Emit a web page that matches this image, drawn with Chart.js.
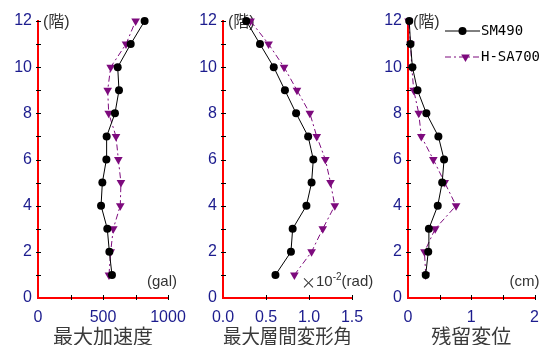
<!DOCTYPE html>
<html>
<head>
<meta charset="utf-8">
<script src="https://cdn.jsdelivr.net/npm/chart.js@4.4.0/dist/chart.umd.min.js"></script>
<style>
  body { margin: 0; background: #fff; }
  #wrap { position: relative; width: 549px; height: 345px; }
  #wrap canvas { position: absolute; left: 0; top: 0; }
</style>
</head>
<body>
<div id="wrap">
  <canvas id="accel" width="549" height="345"></canvas>
  <canvas id="drift" width="549" height="345"></canvas>
  <canvas id="resid" width="549" height="345"></canvas>
</div>
<script>
// floors (階)
const floors = [1, 2, 3, 4, 5, 6, 7, 8, 9, 10, 11, 12];
const seriesNames = ["SM490", "H-SA700"];

// 最大加速度 (gal)
const accelSM490  = [569, 549, 533, 485, 495, 526, 528, 592, 623, 613, 713, 820];
const accelHSA700 = [546, 559, 579, 633, 638, 618, 600, 544, 536, 559, 677, 751];

// 最大層間変形角 (x10^-2 rad)
const driftSM490  = [0.61, 0.79, 0.81, 0.97, 1.03, 1.05, 0.99, 0.85, 0.72, 0.59, 0.43, 0.27];
const driftHSA700 = [0.83, 1.03, 1.16, 1.30, 1.25, 1.19, 1.09, 1.01, 0.86, 0.71, 0.53, 0.32];

// 残留変位 (cm)
const residSM490  = [0.28, 0.32, 0.33, 0.47, 0.54, 0.57, 0.48, 0.29, 0.15, 0.07, 0.04, 0.02];
const residHSA700 = [0.28, 0.26, 0.43, 0.76, 0.58, 0.40, 0.21, 0.17, 0.09, 0.06, 0.04, 0.01];

const BLUE = '#1c1c8e';
const RED = '#ff0000';
const PURPLE = '#7d0a7d';
const CJK = '"Noto Sans CJK JP"';
const SANS = '"Liberation Sans", Arial, ' + CJK;

function pts(vals) {
  return floors.map((f, i) => ({ x: vals[i], y: f }));
}

// tick marks crossing the axes, unit labels and legend
const decor = {
  id: 'decor',
  beforeDatasetsDraw(chart, args, opts) {
    const ctx = chart.ctx;
    const area = chart.chartArea;
    const xs = chart.scales.x, ys = chart.scales.y;
    ctx.save();
    ctx.strokeStyle = '#000';
    ctx.lineWidth = 1;
    ctx.beginPath();
    for (let v = ys.min + opts.yMinor; v <= ys.max + 1e-9; v += opts.yMinor) {
      const py = Math.round(ys.getPixelForValue(v)) + 0.5;
      ctx.moveTo(area.left - 2, py);
      ctx.lineTo(area.left + 3, py);
    }
    for (let v = xs.min + opts.xMinor; v <= xs.max + 1e-9; v += opts.xMinor) {
      const px = Math.round(xs.getPixelForValue(v)) + 0.5;
      ctx.moveTo(px, area.bottom - 3);
      ctx.lineTo(px, area.bottom + 2);
    }
    ctx.stroke();

    ctx.fillStyle = '#333';
    ctx.textBaseline = 'middle';
    ctx.textAlign = 'left';
    ctx.font = '16px ' + SANS;
    ctx.fillText('(階)', area.left + 5, area.top + 2);

    // x unit
    let ux = area.right + opts.unitDx;
    const uy = area.bottom - 16;
    opts.unit.forEach(p => {
      ctx.font = (p.size || 15) + 'px ' + (p.family || SANS);
      ctx.fillText(p.t, ux, uy + (p.dy || 0));
      ux += ctx.measureText(p.t).width;
    });
    ctx.restore();
  },
  afterDatasetsDraw(chart, args, opts) {
    if (!opts.legend) return;
    const ctx = chart.ctx;
    const area = chart.chartArea;
    ctx.save();
    chart.data.datasets.forEach((ds, i) => {
      const y = area.top + 10 + i * 26;
      const x0 = area.left + 37, x1 = area.left + 72;
      ctx.strokeStyle = ds.borderColor;
      ctx.lineWidth = ds.borderWidth;
      ctx.setLineDash(ds.borderDash || []);
      ctx.beginPath();
      ctx.moveTo(x0, y);
      ctx.lineTo(x1, y);
      ctx.stroke();
      ctx.setLineDash([]);
      ctx.fillStyle = ds.backgroundColor;
      const mx = (x0 + x1) / 2 + i * 3;
      ctx.beginPath();
      if (ds.pointStyle === 'triangle') {
        const r = ds.pointRadius;
        ctx.moveTo(mx, y + r);
        ctx.lineTo(mx - r * 0.866, y - r / 2);
        ctx.lineTo(mx + r * 0.866, y - r / 2);
        ctx.closePath();
      } else {
        ctx.arc(mx, y, ds.pointRadius, 0, Math.PI * 2);
      }
      ctx.fill();
      ctx.fillStyle = '#000';
      ctx.font = '14px "DejaVu Sans Mono", "Liberation Mono", monospace';
      ctx.textBaseline = 'middle';
      ctx.textAlign = 'left';
      ctx.fillText(ds.label, x1 + 1, y);
    });
    ctx.restore();
  }
};

function makePanel(id, cfg) {
  return new Chart(document.getElementById(id), {
    type: 'scatter',
    data: {
      datasets: [
        {
          label: seriesNames[0],
          data: pts(cfg.a),
          showLine: true,
          borderColor: '#000',
          backgroundColor: '#000',
          borderWidth: 1,
          pointStyle: 'circle',
          pointRadius: 4,
          pointBorderWidth: 0,
          clip: false
        },
        {
          label: seriesNames[1],
          data: pts(cfg.b),
          showLine: true,
          borderColor: PURPLE,
          backgroundColor: PURPLE,
          borderWidth: 1,
          borderDash: [6, 3, 2, 3],
          pointStyle: 'triangle',
          rotation: 180,
          pointRadius: 5,
          pointBorderWidth: 0,
          clip: false
        }
      ]
    },
    options: {
      responsive: false,
      animation: false,
      events: [],
      layout: {
        autoPadding: false,
        padding: { left: cfg.left - 30, right: 549 - cfg.right, top: 21, bottom: 0 }
      },
      plugins: {
        legend: { display: false },
        tooltip: { enabled: false },
        decor: {
          xMinor: cfg.xMinor,
          yMinor: 1,
          unit: cfg.unit,
          unitDx: cfg.unitDx,
          legend: !!cfg.legend
        }
      },
      scales: {
        x: {
          type: 'linear',
          position: 'bottom',
          min: 0,
          max: cfg.xMax,
          afterFit: s => { s.height = 47; },
          grid: { display: false, drawTicks: false },
          border: { display: true, color: RED, width: 2 },
          ticks: {
            stepSize: cfg.xStep,
            padding: 10,
            color: BLUE,
            font: { size: 16, family: SANS },
            callback: v => cfg.fmt(v)
          },
          title: {
            display: true,
            text: cfg.title,
            color: '#3a3a3a',
            font: { size: 20, family: CJK, lineHeight: 1 },
            padding: { top: 0, bottom: -1 }
          }
        },
        y: {
          type: 'linear',
          min: 0,
          max: 12,
          afterFit: s => { s.width = 30; },
          grid: { display: false, drawTicks: false },
          border: { display: true, color: RED, width: 2 },
          ticks: {
            stepSize: 2,
            padding: 6,
            color: BLUE,
            font: { size: 16, family: SANS }
          }
        }
      }
    },
    plugins: [decor]
  });
}

makePanel('accel', {
  a: accelSM490, b: accelHSA700,
  left: 38, right: 168, xMax: 1000, xStep: 500, xMinor: 250,
  fmt: v => String(v),
  title: '最大加速度',
  unitDx: -21,
  unit: [{ t: '(gal)' }]
});

makePanel('drift', {
  a: driftSM490, b: driftHSA700,
  left: 223, right: 352, xMax: 1.5, xStep: 0.5, xMinor: 0.5,
  fmt: v => v.toFixed(1),
  title: '最大層間変形角',
  unitDx: -51,
  unit: [
    { t: '×', family: CJK },
    { t: '10' },
    { t: '-2', size: 10, dy: -5 },
    { t: '(rad)' }
  ]
});

makePanel('resid', {
  a: residSM490, b: residHSA700,
  left: 408, right: 537, xMax: 2, xStep: 1, xMinor: 0.5,
  fmt: v => String(v),
  title: '残留変位',
  unitDx: -25,
  unit: [{ t: '(cm)' }],
  legend: true
});
</script>
</body>
</html>
